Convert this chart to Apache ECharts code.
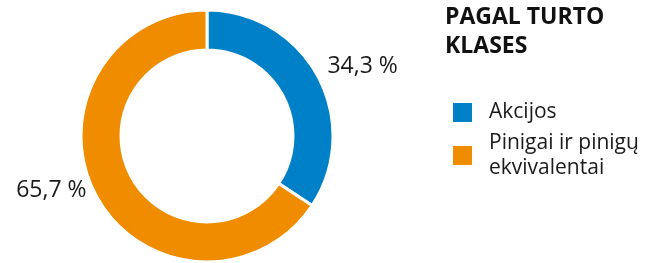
<!DOCTYPE html>
<html>
<head>
<meta charset="utf-8">
<script src="https://cdn.jsdelivr.net/npm/echarts@6/dist/echarts.min.js"></script>
<style>
  html, body { margin: 0; padding: 0; background: #fff; }
  #root { width: 665px; height: 263px; }
</style>
</head>
<body>
<div id="root"></div>
<script>
// duomenys
var categories = ['Akcijos', 'Pinigai ir pinigų ekvivalentai'];
var legendLabels = ['Akcijos', 'Pinigai ir pinigų\nekvivalentai'];
var shares = [34.3, 65.7];
var colors = ['#0080c6', '#f08c00'];

var pieData = categories.map(function (name, i) {
  return { name: name, value: shares[i], itemStyle: { color: colors[i] } };
});

var FONT = 'Open Sans';

var option = {
  animation: false,
  title: {
    text: 'PAGAL TURTO\nKLASES',
    left: 440,
    top: -2,
    textStyle: {
      fontFamily: FONT,
      fontWeight: 'bold',
      fontSize: 23,
      lineHeight: 29,
      color: '#111'
    }
  },
  legend: {
    orient: 'vertical',
    left: 446,
    top: 95,
    icon: 'rect',
    itemWidth: 21,
    itemHeight: 21,
    itemGap: -7,
    selectedMode: false,
    formatter: function (name) {
      return legendLabels[categories.indexOf(name)];
    },
    textStyle: {
      fontFamily: FONT,
      fontSize: 21,
      lineHeight: 25,
      color: '#1a1a1a',
      padding: [0, 0, 0, 11]
    },
    data: [
      { name: categories[0] },
      // antra eilute zemyn, kad pirma eilute butu prie kvadratelio
      { name: categories[1], textStyle: { padding: [25, 0, 0, 11] } }
    ]
  },
  series: [
    {
      type: 'pie',
      center: [207, 136],
      radius: [86, 126],
      startAngle: 90,
      clockwise: true,
      data: pieData,
      itemStyle: { borderColor: '#fff', borderWidth: 3 },
      label: {
        show: true,
        position: 'outside',
        formatter: function (p) {
          return p.value.toFixed(1).replace('.', ',') + ' %';
        },
        fontFamily: FONT,
        fontSize: 23,
        color: '#1a1a1a',
        offset: [0, -8]
      },
      labelLine: { show: false, length: 5, length2: 0 },
      emphasis: { disabled: true }
    }
  ]
};

var myChart = echarts.init(document.getElementById('root'));
myChart.setOption(option);
</script>
</body>
</html>
